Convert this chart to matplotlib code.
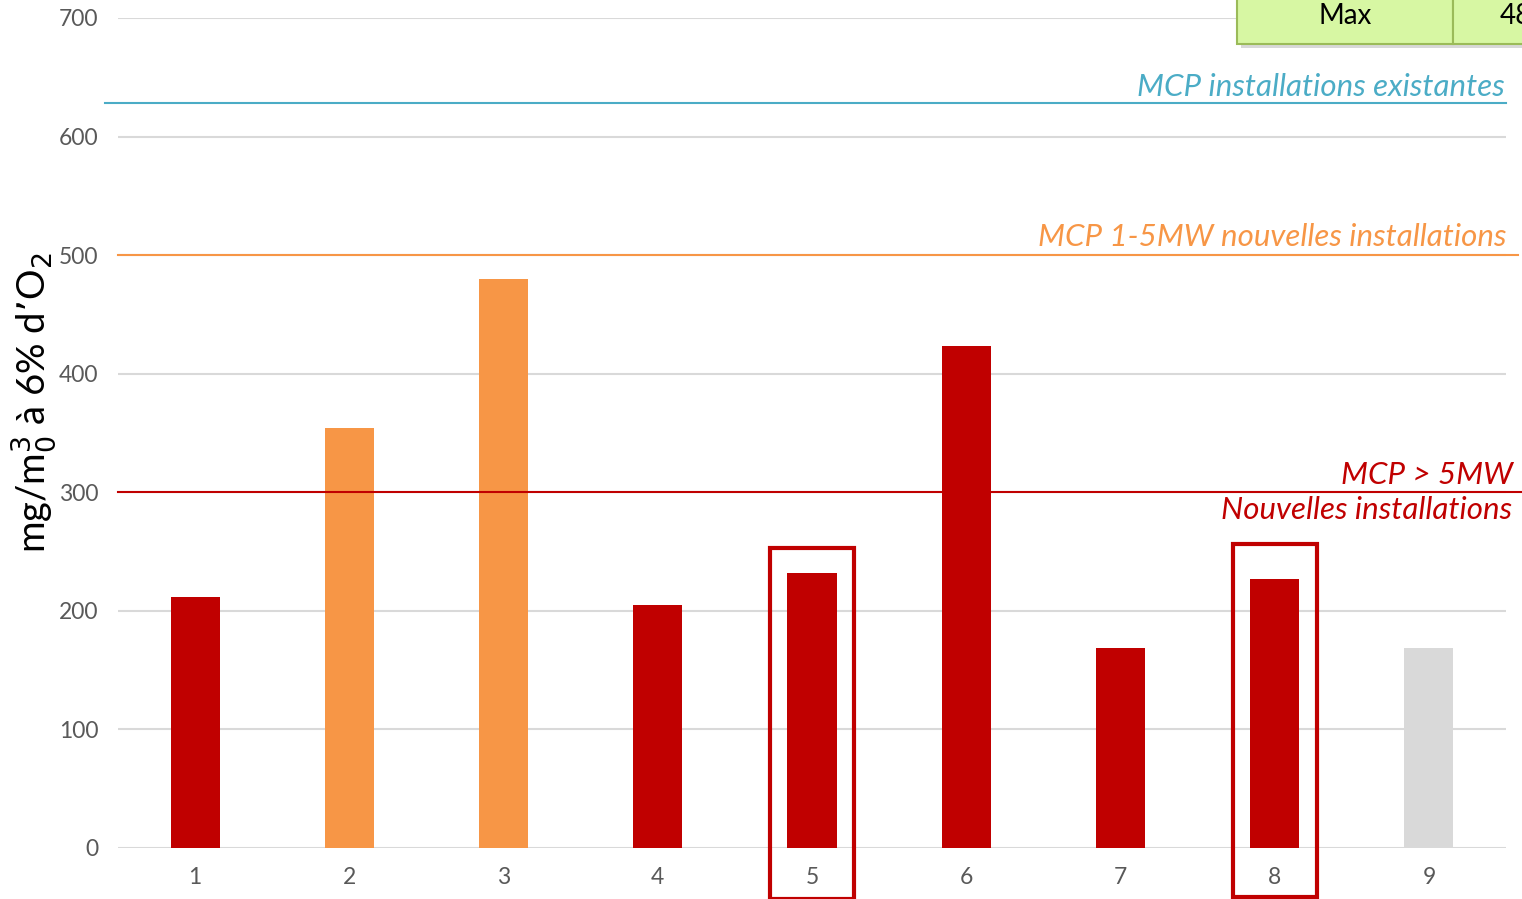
import matplotlib
matplotlib.use("Agg")
import matplotlib.pyplot as plt
from matplotlib.patches import Rectangle

plt.rcParams['font.family'] = ['Lato', 'DejaVu Sans']

# Data
categories = [1, 2, 3, 4, 5, 6, 7, 8, 9]
values = [212, 354, 480, 205, 232, 423, 169, 227, 169]
bar_colors = ['#C00000', '#F79646', '#F79646', '#C00000', '#C00000',
              '#C00000', '#C00000', '#C00000', '#D9D9D9']
highlighted = [5, 8]
limit_existing = 628
limit_1_5mw = 500
limit_over_5mw = 300
max_label = "Max"
max_value = "480"

W, H = 1522, 899
fig = plt.figure(figsize=(W / 100, H / 100), dpi=100)


def fx(x):
    return x / W


def fy(y):
    return 1 - y / H


ax = fig.add_axes([fx(118), fy(848), fx(1506) - fx(118), fy(18) - fy(848)])
ax.set_xlim(0.5, 9.5)
ax.set_ylim(0, 700)

ax.bar(categories, values, width=0.318, color=bar_colors, zorder=3)

ax.set_yticks(range(0, 701, 100))
ax.set_xticks(categories)
ax.set_xticklabels([str(c) for c in categories])
ax.yaxis.grid(True, color='#D9D9D9', linewidth=1.5, zorder=0)
ax.tick_params(axis='both', length=0, labelsize=16.5, labelcolor='#595959')
ax.tick_params(axis='y', pad=14)
ax.tick_params(axis='x', pad=14)
for s in ax.spines.values():
    s.set_visible(False)

# Regulatory limit lines
ax.plot([0.416, 9.5], [limit_existing, limit_existing], color='#4BACC6',
        linewidth=1.5, clip_on=False, zorder=4)
ax.plot([0.5, 9.578], [limit_1_5mw, limit_1_5mw], color='#F79646',
        linewidth=1.5, clip_on=False, zorder=4)
ax.plot([0.5, 9.604], [limit_over_5mw, limit_over_5mw], color='#C00000',
        linewidth=1.5, clip_on=False, zorder=4)

note_font = dict(style='italic', fontsize=22.5, ha='right', va='center')
fig.text(fx(1505), fy(87), "MCP installations existantes", color='#4BACC6', **note_font)
fig.text(fx(1506), fy(237), "MCP 1-5MW nouvelles installations", color='#F79646', **note_font)
fig.text(fx(1513), fy(475), "MCP > 5MW", color='#C00000', **note_font)
fig.text(fx(1512), fy(510), "Nouvelles installations", color='#C00000', **note_font)

# Frames around highlighted bars
for c, top, bottom in zip(highlighted, [253, 256], [-43, -41]):
    ax.add_patch(Rectangle((c - 0.272, bottom), 0.544, top - bottom,
                           fill=False, edgecolor='#C00000', linewidth=3,
                           clip_on=False, zorder=5))

# Y axis title
fig.text(fx(34), fy(403), "mg/m$_0^3$ à 6% d’O$_2$", rotation=90,
         fontsize=27.5, ha='center', va='center', color='black')

# Summary table cell (top right)
fig.patches.append(Rectangle((fx(1241), fy(48)), fx(1522) - fx(1241), fy(-10) - fy(48),
                             transform=fig.transFigure, facecolor='#BFBFBF',
                             edgecolor='none', alpha=0.6, zorder=1))
fig.patches.append(Rectangle((fx(1237), fy(44)), fx(1453) - fx(1237), fy(-10) - fy(44),
                             transform=fig.transFigure, facecolor='#D7F7A3',
                             edgecolor='#9BBB59', linewidth=1.5, zorder=2))
fig.patches.append(Rectangle((fx(1453), fy(44)), fx(1600) - fx(1453), fy(-10) - fy(44),
                             transform=fig.transFigure, facecolor='#D7F7A3',
                             edgecolor='#9BBB59', linewidth=1.5, zorder=2))
fig.text(fx(1345), fy(16), max_label, fontsize=20, ha='center', va='center',
         color='black', zorder=3)
fig.text(fx(1500), fy(16), max_value, fontsize=20, ha='left', va='center',
         color='black', zorder=3)

fig.savefig("out.png", dpi=100)
